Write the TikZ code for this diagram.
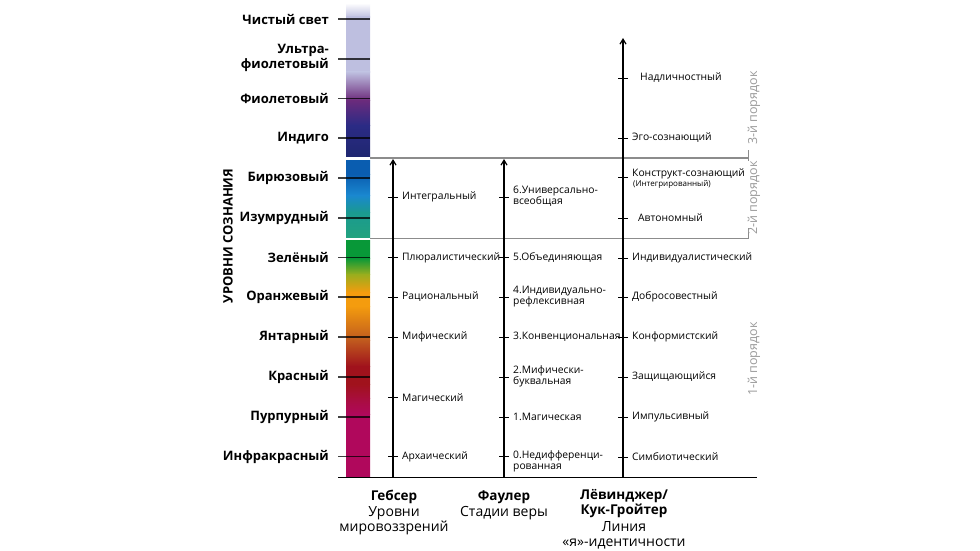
\documentclass[tikz,border=0pt]{standalone}
\usepackage{fontspec}
\setmainfont{Open Sans}
\usetikzlibrary{arrows.meta}
\definecolor{lav}{HTML}{BEBFE0}
\definecolor{purp}{HTML}{6C2B7C}
\definecolor{navy}{HTML}{2B2B85}
\definecolor{navyb}{HTML}{1F2770}
\definecolor{bluea}{HTML}{0A5DB0}
\definecolor{blueb}{HTML}{1A88D0}
\definecolor{teal}{HTML}{1A9A90}
\definecolor{tealb}{HTML}{22A27E}
\definecolor{grn}{HTML}{089838}
\definecolor{olive}{HTML}{98AE1E}
\definecolor{orng}{HTML}{F49C0E}
\definecolor{brwn}{HTML}{C05A1E}
\definecolor{dred}{HTML}{A0121C}
\definecolor{crim}{HTML}{A80E3C}
\definecolor{mag}{HTML}{B0085C}
\definecolor{rulegray}{HTML}{8C8C8C}
\definecolor{ordgray}{HTML}{9A9A9A}
\begin{document}
\begin{tikzpicture}[x=1pt,y=-1pt,
  lvl/.style={anchor=east,inner sep=0pt,align=right,font=\fontsize{13}{15}\selectfont\bfseries},
  stage/.style={anchor=west,inner sep=0pt,align=left,font=\fontsize{10.3}{11.5}\selectfont},
  smallstage/.style={anchor=west,inner sep=0pt,font=\fontsize{8}{9}\selectfont},
  ordlbl/.style={rotate=90,inner sep=0pt,text=ordgray,font=\fontsize{12.5}{14}\selectfont},
  coltitle/.style={inner sep=0pt,align=center,font=\fontsize{13.5}{15}\selectfont\bfseries},
  colsub/.style={inner sep=0pt,align=center,font=\fontsize{14}{15}\selectfont},
  bartick/.style={draw=black,draw opacity=0.75,line width=1.2pt},
  axtick/.style={draw=black,line width=0.9pt},
  axis/.style={draw=black,line width=1.2pt,-{Straight Barb[length=5pt,width=6pt]}},
  grayrule/.style={draw=rulegray,line width=1.1pt},
  baseline/.style={draw=black,line width=1.3pt}]
\useasboundingbox (0,0) rectangle (980,551);

% colour bar
\foreach \ya/\yb/\ca/\cb in {
  3/17/white/lav, 17/72/lav/lav, 72/100/lav/purp, 100/125/purp/navy, 125/156/navy/navyb,
  160/174/bluea/bluea, 174/195/bluea/blueb, 195/212/blueb/teal, 212/237/teal/tealb,
  240/258/grn/grn, 258/274/grn/olive, 274/292/olive/orng, 292/306/orng/orng,
  306/340/orng/brwn, 340/366/brwn/dred, 366/384/dred/dred, 384/398/dred/crim,
  398/414/crim/mag, 414/477/mag/mag}
  {\shade[top color=\ca,bottom color=\cb] (346,\ya) rectangle (370,\yb+0.5);}

% level labels and ticks across the bar
\foreach \n/\y/\ty/\t in {
  l1/19/19/{Чистый свет}, l2/57.5/59/{Ультра-\\фиолетовый}, l3/98.5/98.5/{Фиолетовый},
  l4/138/138/{Индиго}, l5/178/178/{Бирюзовый}, l6/218/218/{Изумрудный},
  l7/257.5/257.5/{Зелёный}, l8/297/297/{Оранжевый}, l9/337/337/{Янтарный},
  l10/377/377/{Красный}, l11/417/417/{Пурпурный}, l12/456.5/456.5/{Инфракрасный}}
{
  \node[lvl] (\n) at (329,\y) {\t};
  \coordinate (\n a) at (338,\ty);
  \coordinate (\n b) at (370,\ty);
  \draw[bartick] (\n a) -- (\n b);
}

\node[rotate=90,inner sep=0pt,font=\fontsize{13}{14}\selectfont\bfseries] (title) at (228,236) {УРОВНИ СОЗНАНИЯ};

% gray separators
\coordinate (g1a) at (370,158); \coordinate (g1b) at (748,158);
\coordinate (g2a) at (370,238.5); \coordinate (g2b) at (748,238.5);
\draw[grayrule] (g1a) -- (g1b);
\draw[grayrule] (g2a) -- (g2b);
\coordinate (m1a) at (748,150); \coordinate (m1b) at (748,161);
\coordinate (m2a) at (748,228); \coordinate (m2b) at (748,238.5);
\draw[draw=rulegray,line width=0.8pt] (m1a) -- (m1b);
\draw[draw=rulegray,line width=0.8pt] (m2a) -- (m2b);

% order labels
\node[ordlbl] (o3) at (754,108) {3-й порядок};
\node[ordlbl] (o2) at (754,198) {2-й порядок};
\node[ordlbl] (o1) at (754,359) {1-й порядок};

% base line
\coordinate (base0) at (338,477.5); \coordinate (base1) at (757,477.5);
\draw[baseline] (base0) -- (base1);

% axes
\coordinate (gB) at (393,477); \coordinate (gT) at (393,159);
\coordinate (fB) at (504,477); \coordinate (fT) at (504,159);
\coordinate (vB) at (623,477); \coordinate (vT) at (623,38);
\draw[axis] (gB) -- (gT);
\draw[axis] (fB) -- (fT);
\draw[axis] (vB) -- (vT);

% Gebser
\foreach \n/\y/\t in {
  ga/197/{Интегральный}, gb/257.5/{Плюралистический}, gc/297/{Рациональный},
  gd/337/{Мифический}, ge/397.5/{Магический}, gf/456.5/{Архаический}}
{
  \draw[axtick] (388,\y) -- (398,\y);
  \node[stage] (\n) at (402,\y) {\t};
}

% Fowler
\foreach \y in {197,257.5,297,337,377,417,456.5}
  {\draw[axtick] (499,\y) -- (509,\y);}
\node[stage] (fa) at (513,196) {6.Универсально-\\всеобщая};
\node[stage] (fb) at (513,257.5) {5.Объединяющая};
\node[stage] (fc) at (513,296.5) {4.Индивидуально-\\рефлексивная};
\node[stage] (fd) at (513,337) {3.Конвенциональная};
\node[stage] (fe) at (513,376.5) {2.Мифически-\\буквальная};
\node[stage] (ff) at (513,417) {1.Магическая};
\node[stage] (fg) at (513,461.5) {0.Недифференци-\\рованная};

% Loevinger / Cook-Greuter
\foreach \y in {78,138,177,218,258,297,337,377,417,457}
  {\draw[axtick] (618,\y) -- (628,\y);}
\node[stage] (va) at (640,78) {Надличностный};
\node[stage] (vb) at (632,138) {Эго-сознающий};
\node[stage] (vc) at (632,174) {Конструкт-сознающий};
\node[smallstage] (vc2) at (633,184.5) {(Интегрированный)};
\node[stage] (vd) at (638,218) {Автономный};
\node[stage] (ve) at (632,258) {Индивидуалистический};
\node[stage] (vf) at (632,297) {Добросовестный};
\node[stage] (vg) at (632,337) {Конформистский};
\node[stage] (vh) at (632,377) {Защищающийся};
\node[stage] (vi) at (632,417) {Импульсивный};
\node[stage] (vj) at (632,457) {Симбиотический};

% column titles
\node[coltitle] (tg) at (394,497) {Гебсер};
\node[colsub,anchor=north] (sg) at (394,506) {Уровни\\мировоззрений};
\node[coltitle] (tf) at (504,497) {Фаулер};
\node[colsub,anchor=north] (sf) at (504,506) {Стадии веры};
\node[coltitle,anchor=north] (tv) at (624,489) {Лёвинджер/\\Кук-Гройтер};
\node[colsub,anchor=north] (sv) at (624,521.5) {Линия\\«я»-идентичности};
\end{tikzpicture}
\end{document}
